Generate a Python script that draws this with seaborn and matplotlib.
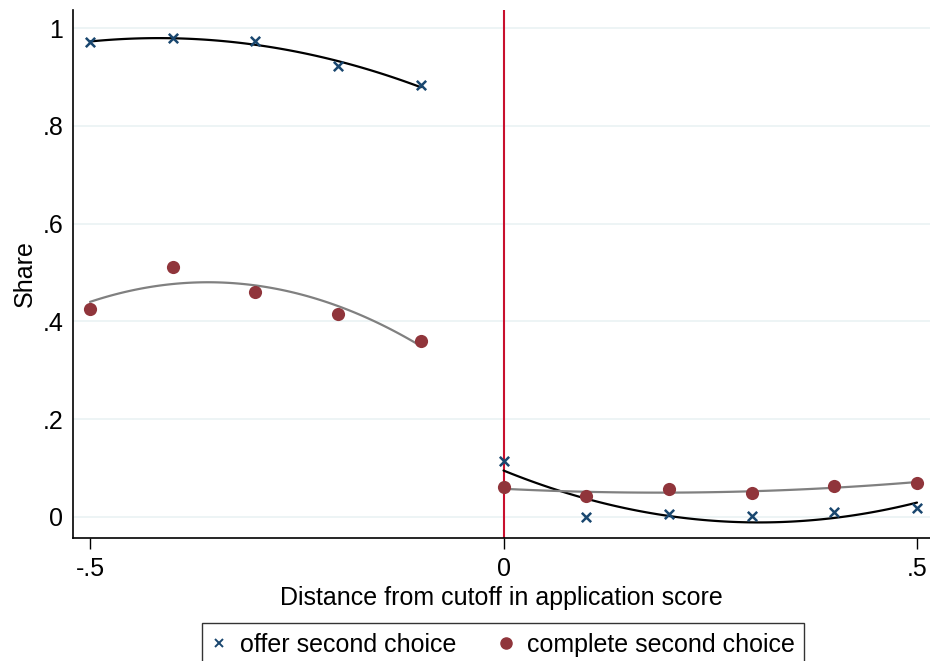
import matplotlib
matplotlib.use("Agg")
import matplotlib.pyplot as plt
import seaborn as sns
import numpy as np
import pandas as pd
from matplotlib.lines import Line2D

# Data (bin means)
x_left = [-0.5, -0.4, -0.3, -0.2, -0.1]
x_right = [0.0, 0.1, 0.2, 0.3, 0.4, 0.5]
offer_left = [0.971, 0.980, 0.973, 0.922, 0.883]
offer_right = [0.115, 0.000, 0.006, 0.002, 0.010, 0.018]
complete_left = [0.425, 0.511, 0.460, 0.415, 0.360]
complete_right = [0.061, 0.043, 0.057, 0.049, 0.063, 0.070]

series_labels = ["offer second choice", "complete second choice"]
x_ticks = [-0.5, 0, 0.5]
x_ticklabels = ["-.5", "0", ".5"]
y_ticks = [0, 0.2, 0.4, 0.6, 0.8, 1.0]
y_ticklabels = ["0", ".2", ".4", ".6", ".8", "1"]

NAVY = "#1a476f"
MAROON = "#90353b"
GRAY = "#808080"
RED = "#c8102e"
GRID = "#eaf2f3"

sns.set_theme(style="white")
plt.rcParams["font.family"] = ["Liberation Sans", "DejaVu Sans"]
plt.rcParams["text.color"] = "black"
plt.rcParams["axes.labelcolor"] = "black"
plt.rcParams["xtick.color"] = "black"
plt.rcParams["ytick.color"] = "black"
FS = 18

fig = plt.figure(figsize=(9.3, 6.61), dpi=100)
ax = fig.add_axes([73 / 930, (661 - 538) / 661, 1 - 73 / 930, (538 - 10) / 661])

ax.set_xlim(-0.5206, 0.5157)
ax.set_ylim(-0.043, 1.037)

for yv in y_ticks:
    ax.axhline(yv, color=GRID, lw=1.2, zorder=0)

ax.axvline(0, color=RED, lw=1.5, zorder=1)

# Fitted quadratic lines
sns.regplot(x=x_left, y=offer_left, order=2, ci=None, scatter=False, truncate=True,
            line_kws=dict(color="black", lw=1.6, zorder=2), ax=ax)
sns.regplot(x=x_right, y=offer_right, order=2, ci=None, scatter=False, truncate=True,
            line_kws=dict(color="black", lw=1.6, zorder=2), ax=ax)
sns.regplot(x=x_left, y=complete_left, order=2, ci=None, scatter=False, truncate=True,
            line_kws=dict(color=GRAY, lw=1.6, zorder=2), ax=ax)
sns.regplot(x=x_right, y=complete_right, order=2, ci=None, scatter=False, truncate=True,
            line_kws=dict(color=GRAY, lw=1.6, zorder=2), ax=ax)

# Scatter points
sns.scatterplot(x=x_left + x_right, y=complete_left + complete_right, marker="o", s=90,
                color=MAROON, edgecolor=MAROON, linewidth=0, ax=ax, zorder=3)
sns.scatterplot(x=x_left + x_right, y=offer_left + offer_right, marker="x", s=45,
                color=NAVY, linewidth=1.8, ax=ax, zorder=4)

ax.set_xticks(x_ticks)
ax.set_xticklabels(x_ticklabels, fontsize=FS)
ax.set_yticks(y_ticks)
ax.set_yticklabels(y_ticklabels, fontsize=FS)
ax.tick_params(axis="x", length=8, width=1, color="black", labelcolor="black",
               direction="out", pad=6, bottom=True)
ax.tick_params(axis="y", length=0, pad=7, labelcolor="black")

for s in ["top", "right"]:
    ax.spines[s].set_visible(False)
for s in ["left", "bottom"]:
    ax.spines[s].set_color("black")
    ax.spines[s].set_linewidth(1.2)

ax.set_xlabel("Distance from cutoff in application score", fontsize=FS, labelpad=3, color="black")
ax.set_ylabel("Share", fontsize=FS, labelpad=4, color="black")

handles = [
    Line2D([], [], marker="x", color=NAVY, lw=0, markersize=5.5, markeredgewidth=1.4),
    Line2D([], [], marker="o", color=MAROON, lw=0, markersize=8),
]
leg = fig.legend(handles, series_labels, loc="upper center",
                 bbox_to_anchor=(503 / 930, 1 - 623 / 661), ncol=2, fontsize=FS,
                 frameon=True, fancybox=False, edgecolor="black", borderaxespad=0,
                 handletextpad=0.54, columnspacing=1.66, borderpad=0.4, handlelength=0.6)
leg.get_frame().set_linewidth(1.0)
for t in leg.get_texts():
    t.set_color("black")

fig.savefig("out.png", dpi=100)
